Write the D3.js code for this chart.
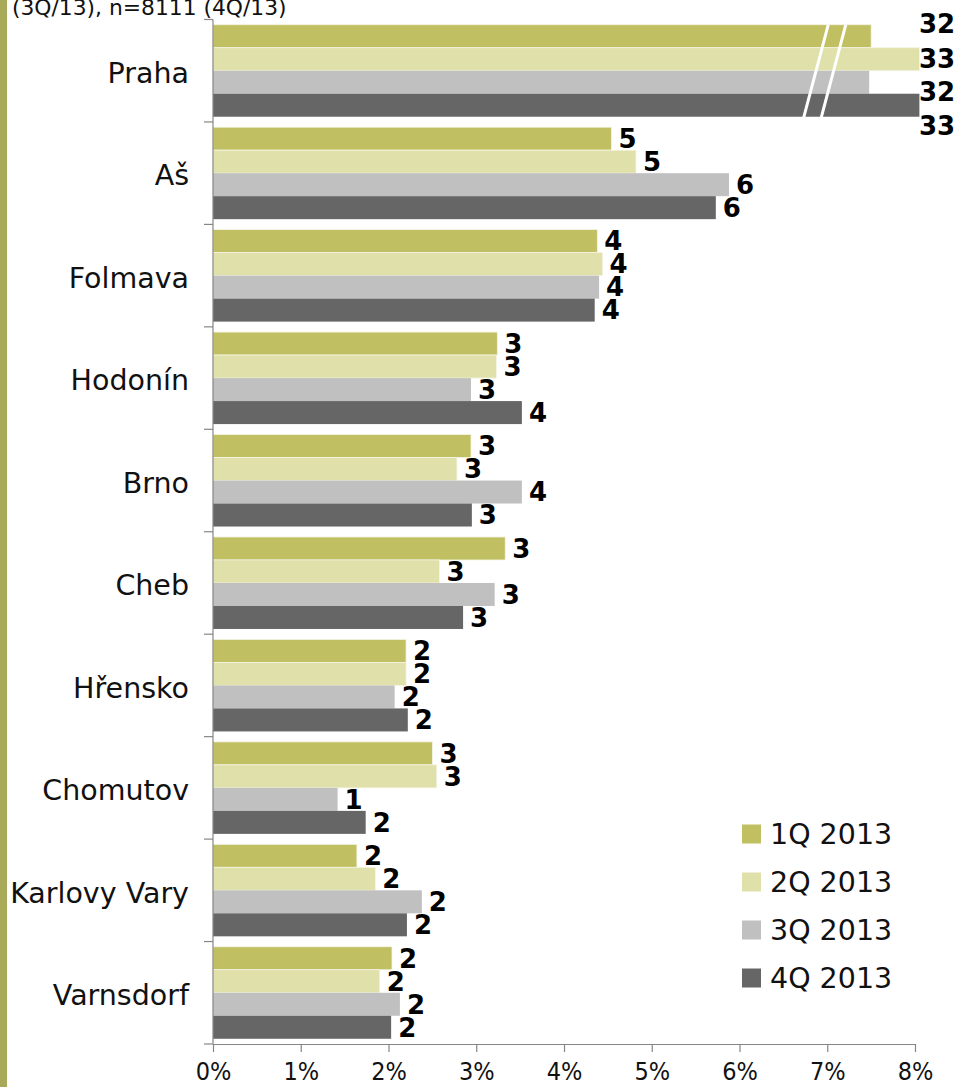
<!DOCTYPE html>
<html>
<head>
<meta charset="utf-8">
<script src="https://cdn.jsdelivr.net/npm/d3@7/dist/d3.min.js"></script>
<style>
  html, body { margin: 0; padding: 0; background: #fff; }
  svg { display: block; }
  text { font-family: "DejaVu Sans", Verdana, sans-serif; }
</style>
</head>
<body>
<script>
// ---- data ----
const categories = ["Praha", "Aš", "Folmava", "Hodonín", "Brno", "Cheb", "Hřensko", "Chomutov", "Karlovy Vary", "Varnsdorf"];
const seriesNames = ["1Q 2013", "2Q 2013", "3Q 2013", "4Q 2013"];
const q1 = [32.0, 4.54, 4.38, 3.24, 2.94, 3.33, 2.20, 2.50, 1.64, 2.04];
const q2 = [33.0, 4.82, 4.44, 3.23, 2.78, 2.58, 2.20, 2.55, 1.85, 1.90];
const q3 = [31.96, 5.88, 4.40, 2.94, 3.52, 3.21, 2.07, 1.42, 2.38, 2.13];
const q4 = [33.0, 5.73, 4.35, 3.52, 2.95, 2.85, 2.22, 1.74, 2.21, 2.03];
const xTicks = [0, 1, 2, 3, 4, 5, 6, 7, 8];
const headerText = "(3Q/13), n=8111 (4Q/13)";
const colors = ["#C0BF62", "#E0E0AA", "#C0C0C0", "#666666"];

const values = [q1, q2, q3, q4];

const W = 959, H = 1087;
const svg = d3.select("body").append("svg").attr("width", W).attr("height", H);

// left accent strip
svg.append("rect").attr("x", 0).attr("y", 0).attr("width", 7).attr("height", H).attr("fill", "#A9A95A");

// header (partially cut at top, as in the source)
svg.append("text").attr("x", 12).attr("y", 15).attr("font-size", 21.8).attr("fill", "#111").text(headerText);

const x = d3.scaleLinear().domain([0, 8]).range([213, 915]);
const y = d3.scaleBand().domain(categories).range([19.5, 1044]);
const groupH = 92;
const ySub = d3.scaleBand().domain(seriesNames).range([0, groupH]);
const padTop = (y.step() - groupH) / 2;

// broken-axis mapping for values beyond the axis
const breakAt = 8;
function disp(v) { return v > breakAt ? 7.5 + (v - 32) * 0.55 : v; }

const axisColor = "#868686";

// bars
const bars = [];
categories.forEach((c, ci) => {
  seriesNames.forEach((s, si) => {
    bars.push({ c, ci, s, si, v: values[si][ci] });
  });
});

svg.append("g").selectAll("rect").data(bars).join("rect")
  .attr("x", x(0))
  .attr("y", d => y(d.c) + padTop + ySub(d.s))
  .attr("width", d => x(disp(d.v)) - x(0))
  .attr("height", ySub.bandwidth())
  .attr("fill", d => colors[d.si])
  .attr("stroke", d => d.si < 2 ? "#F4F4E4" : "none")
  .attr("stroke-width", 0.8);

// break marks on broken category
const broken = categories.filter((c, ci) => values.some(arr => arr[ci] > breakAt));
broken.forEach(c => {
  const top = y(c) + padTop;
  const bot = top + groupH + 1;
  [[7.0, 6.72], [7.2, 6.92]].forEach(([a, b]) => {
    svg.append("line")
      .attr("x1", x(a) + 1).attr("y1", top)
      .attr("x2", x(b) + 1).attr("y2", bot)
      .attr("stroke", "#fff").attr("stroke-width", 3);
  });
});

// value labels
const brokenOffsets = [-13, -1, 9, 20];
svg.append("g").selectAll("text").data(bars).join("text")
  .attr("x", d => broken.includes(d.c) ? x(8) + 4 : x(disp(d.v)) + 7)
  .attr("y", d => {
    const cy = y(d.c) + padTop + ySub(d.s) + ySub.bandwidth() / 2;
    const off = broken.includes(d.c) ? brokenOffsets[d.si] : 0;
    return cy + off;
  })
  .attr("dy", "0.36em")
  .attr("font-size", 26)
  .attr("font-weight", "bold")
  .attr("fill", "#000")
  .text(d => Math.round(d.v));

// y axis
const yAxisG = svg.append("g");
yAxisG.append("line").attr("x1", x(0)).attr("x2", x(0))
  .attr("y1", y.range()[0]).attr("y2", y.range()[1])
  .attr("stroke", axisColor).attr("stroke-width", 1.2);
const bounds = categories.map(c => y(c)).concat([y.range()[1]]);
yAxisG.selectAll("line.tick").data(bounds).join("line").attr("class", "tick")
  .attr("x1", x(0) - 9).attr("x2", x(0))
  .attr("y1", d => d).attr("y2", d => d)
  .attr("stroke", axisColor).attr("stroke-width", 1.2);

// category labels
svg.append("g").selectAll("text").data(categories).join("text")
  .attr("x", 189)
  .attr("y", c => y(c) + y.bandwidth() / 2 + 2)
  .attr("dy", "0.36em")
  .attr("text-anchor", "end")
  .attr("font-size", 28.5)
  .attr("fill", "#111")
  .text(c => c);

// x axis
const xAxis = d3.axisBottom(x).tickValues(xTicks).tickFormat(d => d + "%").tickSize(8).tickPadding(10).tickSizeOuter(0);
const xg = svg.append("g").attr("transform", `translate(0,${y.range()[1]})`).call(xAxis);
xg.select(".domain").attr("stroke", axisColor).attr("stroke-width", 1.2);
xg.selectAll(".tick line").attr("stroke", axisColor).attr("stroke-width", 1.2);
xg.selectAll(".tick text")
  .attr("font-family", "'DejaVu Sans Condensed', 'DejaVu Sans', sans-serif")
  .style("font-stretch", "condensed")
  .attr("font-size", 25).attr("fill", "#111");

// legend
const leg = svg.append("g").attr("transform", "translate(742,834)");
seriesNames.forEach((s, i) => {
  const g = leg.append("g").attr("transform", `translate(0,${i * 48})`);
  g.append("rect").attr("x", 0).attr("y", -9.5).attr("width", 19).attr("height", 19).attr("fill", colors[i]);
  g.append("text").attr("x", 28).attr("y", 0).attr("dy", "0.36em")
    .attr("font-size", 28.5).attr("fill", "#111").text(s);
});
</script>
</body>
</html>
